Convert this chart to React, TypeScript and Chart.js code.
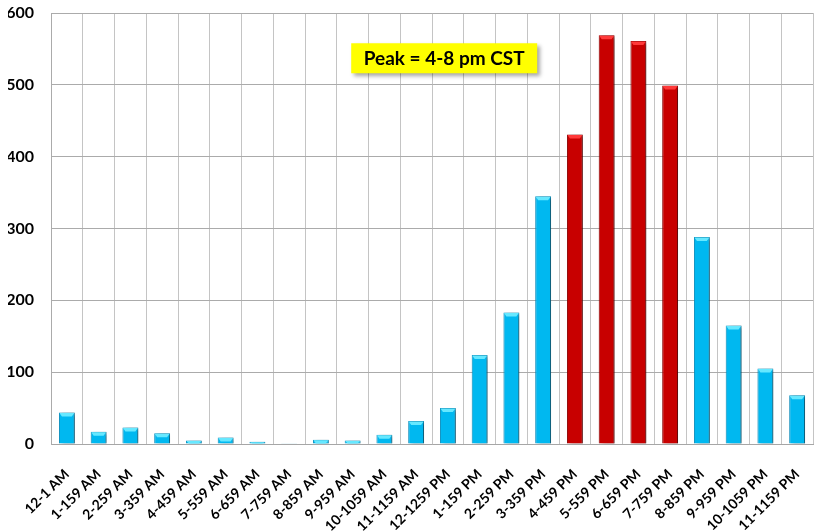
import React, { useEffect, useRef } from "react";
import { Chart, registerables } from "chart.js";

Chart.register(...registerables);

const categories = [
  "12-1 AM", "1-159 AM", "2-259 AM", "3-359 AM", "4-459 AM", "5-559 AM",
  "6-659 AM", "7-759 AM", "8-859 AM", "9-959 AM", "10-1059 AM", "11-1159 AM",
  "12-1259 PM", "1-159 PM", "2-259 PM", "3-359 PM", "4-459 PM", "5-559 PM",
  "6-659 PM", "7-759 PM", "8-859 PM", "9-959 PM", "10-1059 PM", "11-1159 PM",
];

const counts = [
  44, 17, 23, 15, 5, 9,
  3, 1, 6, 5, 13, 32,
  50, 124, 183, 345, 431, 569,
  561, 499, 288, 165, 105, 68,
];

const peakCategories = ["4-459 PM", "5-559 PM", "6-659 PM", "7-759 PM"];

const yMin = 0;
const yMax = 600;
const yStep = 100;

const annotationText = "Peak = 4-8 pm CST";

const BLUE = "#00B8F0";
const BLUE_CAP = "#66E8FF";
const BLUE_EDGE = "#0A8FBF";
const RED = "#C80000";
const RED_CAP = "#FF3A3A";
const RED_EDGE = "#8E0000";

const isPeak = (c: string) => peakCategories.includes(c);

const barStylePlugin = {
  id: "barStyle",
  beforeDatasetsDraw(chart: any) {
    const ctx = chart.ctx;
    ctx.save();
    ctx.shadowColor = "rgba(0,0,0,0.45)";
    ctx.shadowOffsetX = 3;
    ctx.shadowOffsetY = 1;
    ctx.shadowBlur = 4;
  },
  afterDatasetsDraw(chart: any) {
    const ctx = chart.ctx;
    ctx.restore();
    const meta = chart.getDatasetMeta(0);
    meta.data.forEach((el: any, i: number) => {
      const { x, y, base, width } = el.getProps(["x", "y", "base", "width"], true);
      const h = base - y;
      if (h < 1) return;
      const capH = Math.min(4, h);
      const l = x - width / 2;
      const r = x + width / 2;
      ctx.save();
      ctx.fillStyle = isPeak(categories[i]) ? RED_CAP : BLUE_CAP;
      ctx.beginPath();
      ctx.moveTo(l + 0.5, y + 0.5);
      ctx.lineTo(r - 0.5, y + 0.5);
      ctx.lineTo(r - 3, y + capH);
      ctx.lineTo(l + 3, y + capH);
      ctx.closePath();
      ctx.fill();
      ctx.restore();
    });
  },
};

const annotationPlugin = {
  id: "peakAnnotation",
  afterDraw(chart: any) {
    const ctx = chart.ctx;
    const area = chart.chartArea;
    const yScale = chart.scales.y;
    const cx = area.left + (area.right - area.left) * 0.516;
    const cy = yScale.getPixelForValue(537);
    ctx.save();
    ctx.font = "bold 19px Lato, 'Open Sans', sans-serif";
    const tw = ctx.measureText(annotationText).width;
    const bw = tw + 25;
    const bh = 30;
    const bx = cx - bw / 2;
    const by = cy - bh / 2;
    ctx.shadowColor = "rgba(0,0,0,0.35)";
    ctx.shadowOffsetX = 3;
    ctx.shadowOffsetY = 3;
    ctx.shadowBlur = 4;
    ctx.fillStyle = "#FFFF00";
    ctx.fillRect(bx, by, bw, bh);
    ctx.shadowColor = "transparent";
    ctx.fillStyle = "#000000";
    ctx.textAlign = "center";
    ctx.textBaseline = "middle";
    ctx.fillText(annotationText, cx, cy + 1);
    ctx.restore();
  },
};

export default function App() {
  const ref = useRef<HTMLCanvasElement | null>(null);

  useEffect(() => {
    document.body.style.margin = "0";
    if (!ref.current) return;
    const chart = new Chart(ref.current, {
      type: "bar",
      data: {
        labels: categories,
        datasets: [
          {
            data: counts,
            backgroundColor: categories.map((c) => (isPeak(c) ? RED : BLUE)),
            borderColor: categories.map((c) => (isPeak(c) ? RED_EDGE : BLUE_EDGE)),
            borderWidth: 1,
            barPercentage: 0.5,
            categoryPercentage: 1,
          },
        ],
      },
      options: {
        responsive: false,
        animation: false,
        devicePixelRatio: 1,
        layout: { padding: { left: 8, top: 13, right: 1, bottom: 0 } },
        plugins: {
          legend: { display: false },
          tooltip: { enabled: false },
        },
        scales: {
          x: {
            grid: { color: "#C4C4C4", drawTicks: false, offset: true },
            border: { color: "#A6A6A6" },
            ticks: {
              color: "#000",
              font: { family: "Lato, 'Open Sans', sans-serif", weight: "bold", size: 14 },
              minRotation: 45,
              maxRotation: 45,
              autoSkip: false,
              padding: 22,
            },
            afterFit: (scale: any) => {
              scale.height = 87;
              scale.paddingLeft = 0;
              scale.paddingRight = 0;
            },
          },
          y: {
            min: yMin,
            max: yMax,
            grid: { color: "#ABABAB", drawTicks: false },
            border: { color: "#ABABAB" },
            ticks: {
              stepSize: yStep,
              color: "#000",
              font: { family: "Lato, 'Open Sans', sans-serif", weight: "bold", size: 16 },
              padding: 17,
            },
            afterFit: (scale: any) => {
              scale.width = 43;
              scale.paddingTop = 0;
              scale.paddingBottom = 0;
            },
          },
        },
      },
      plugins: [barStylePlugin, annotationPlugin],
    });
    return () => chart.destroy();
  }, []);

  return <canvas ref={ref} width={814} height={531} style={{ display: "block" }} />;
}
